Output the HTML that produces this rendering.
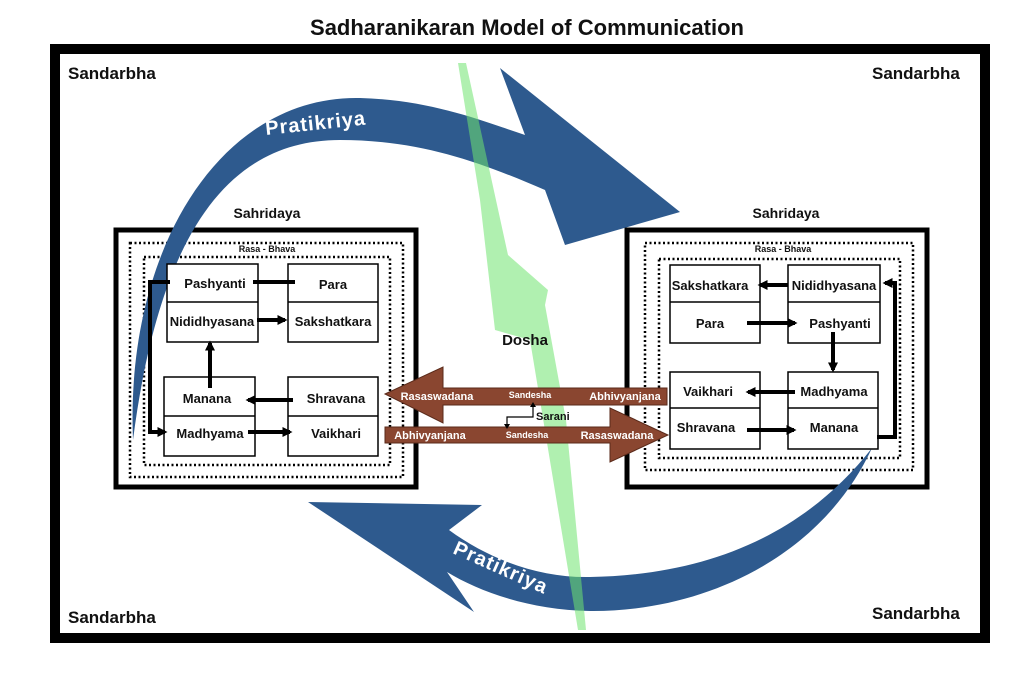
<!DOCTYPE html>
<html><head><meta charset="utf-8"><style>
html,body{margin:0;padding:0;background:#fff;}
svg{display:block;font-family:"Liberation Sans",Arial,sans-serif;}
</style></head><body>
<svg width="1024" height="683" viewBox="0 0 1024 683" xmlns="http://www.w3.org/2000/svg">
<defs>
<marker id="ah" markerWidth="10" markerHeight="10" refX="6" refY="4" orient="auto" markerUnits="userSpaceOnUse" viewBox="0 0 8 8">
<path d="M0,0 L8,4 L0,8 Z" fill="#000"/></marker>
</defs>
<rect width="1024" height="683" fill="#fff"/>
<text x="527" y="35" font-size="22" font-weight="bold" text-anchor="middle" fill="#111">Sadharanikaran Model of Communication</text>
<rect x="55" y="49" width="930" height="589" fill="none" stroke="#000" stroke-width="10"/>
<g font-size="17" font-weight="bold" fill="#111">
<text x="68" y="79">Sandarbha</text>
<text x="872" y="79">Sandarbha</text>
<text x="68" y="623">Sandarbha</text>
<text x="872" y="619">Sandarbha</text>
</g>

<!-- boxes left -->
<rect x="116" y="230" width="300" height="257" fill="#fff" stroke="#000" stroke-width="5"/>
<rect x="130" y="243" width="273" height="234" fill="none" stroke="#000" stroke-width="2.5" stroke-dasharray="2,2.5"/>
<rect x="144" y="257" width="246" height="208" fill="none" stroke="#000" stroke-width="2.5" stroke-dasharray="2,2.5"/>
<!-- boxes right -->
<rect x="627" y="230" width="300" height="257" fill="#fff" stroke="#000" stroke-width="5"/>
<rect x="645" y="243" width="268" height="227" fill="none" stroke="#000" stroke-width="2.5" stroke-dasharray="2,2.5"/>
<rect x="659" y="259" width="241" height="199" fill="none" stroke="#000" stroke-width="2.5" stroke-dasharray="2,2.5"/>

<!-- blue arrows -->
<path d="M133,440 C125,250 220,95 360,98 C430,100 480,120 525,135 L500,68 L680,212 L565,245 L545,190 C480,162 420,140 340,140 C230,140 160,230 133,440 Z" fill="#2e5a8e"/>
<path d="M872,448 C820,560 700,612 590,611 C530,610 480,592 447,572 L474,612 L308,502 L482,505 L449,530 C490,560 540,578 590,577 C700,575 800,540 872,448 Z" fill="#2e5a8e"/>
<text transform="translate(266,135) rotate(-6)" font-size="20" font-weight="bold" fill="#fff" letter-spacing="1">Pratikriya</text>
<text transform="translate(452,553) rotate(24)" font-size="20" font-weight="bold" fill="#fff" letter-spacing="1">Pratikriya</text>

<!-- green lightning -->
<path d="M458,63 L466,63 L508,255 L548,290 L545,305 L566,420 L586,630 L578,630 L530,340 L495,330 L480,200 Z" fill="#6fe46f" fill-opacity="0.55"/>
<text x="525" y="345" font-size="15" font-weight="bold" text-anchor="middle" fill="#111">Dosha</text>

<!-- inner boxes -->
<g fill="#fff" stroke="#000" stroke-width="1.5">
<rect x="167" y="264" width="91" height="78"/><line x1="167" y1="302" x2="258" y2="302"/>
<rect x="288" y="264" width="90" height="78"/><line x1="288" y1="302" x2="378" y2="302"/>
<rect x="164" y="377" width="91" height="79"/><line x1="164" y1="416" x2="255" y2="416"/>
<rect x="288" y="377" width="90" height="79"/><line x1="288" y1="416" x2="378" y2="416"/>
<rect x="670" y="265" width="90" height="78"/><line x1="670" y1="302" x2="760" y2="302"/>
<rect x="788" y="265" width="92" height="78"/><line x1="788" y1="302" x2="880" y2="302"/>
<rect x="670" y="372" width="90" height="77"/><line x1="670" y1="408" x2="760" y2="408"/>
<rect x="788" y="372" width="90" height="77"/><line x1="788" y1="408" x2="878" y2="408"/>
</g>
<g font-size="13" font-weight="bold" fill="#111" text-anchor="middle">
<text x="215" y="288">Pashyanti</text>
<text x="212" y="326">Nididhyasana</text>
<text x="333" y="289">Para</text>
<text x="333" y="326">Sakshatkara</text>
<text x="207" y="403">Manana</text>
<text x="210" y="438">Madhyama</text>
<text x="336" y="403">Shravana</text>
<text x="336" y="438">Vaikhari</text>
<text x="710" y="290">Sakshatkara</text>
<text x="710" y="328">Para</text>
<text x="834" y="290">Nididhyasana</text>
<text x="840" y="328">Pashyanti</text>
<text x="708" y="396">Vaikhari</text>
<text x="706" y="432">Shravana</text>
<text x="834" y="396">Madhyama</text>
<text x="834" y="432">Manana</text>
</g>
<g font-size="14" font-weight="bold" fill="#111" text-anchor="middle">
<text x="267" y="218">Sahridaya</text>
<text x="786" y="218">Sahridaya</text>
</g>
<g font-size="9" font-weight="bold" fill="#111" text-anchor="middle">
<text x="267" y="252">Rasa - Bhava</text>
<text x="783" y="252">Rasa - Bhava</text>
</g>

<!-- connectors -->
<g stroke="#000" stroke-width="4" fill="none">
<line x1="253" y1="282" x2="295" y2="282"/>
<polyline points="170,282 150,282 150,432 165,432" marker-end="url(#ah)"/>
<line x1="257" y1="320" x2="285" y2="320" marker-end="url(#ah)"/>
<line x1="210" y1="388" x2="210" y2="343" marker-end="url(#ah)"/>
<line x1="293" y1="400" x2="248" y2="400" marker-end="url(#ah)"/>
<line x1="248" y1="432" x2="290" y2="432" marker-end="url(#ah)"/>
<line x1="788" y1="285" x2="760" y2="285" marker-end="url(#ah)"/>
<line x1="747" y1="323" x2="795" y2="323" marker-end="url(#ah)"/>
<line x1="833" y1="332" x2="833" y2="370" marker-end="url(#ah)"/>
<line x1="795" y1="392" x2="748" y2="392" marker-end="url(#ah)"/>
<line x1="747" y1="430" x2="794" y2="430" marker-end="url(#ah)"/>
<polyline points="877,437 895,437 895,283 885,283" marker-end="url(#ah)"/>
</g>

<!-- brown arrows -->
<path d="M385,394 L443,367 L443,388 L667,388 L667,405 L443,405 L443,423 Z" fill="#8a4630" stroke="#5a2a1a" stroke-width="1"/>
<path d="M385,427 L610,427 L610,408 L668,435 L610,462 L610,443 L385,443 Z" fill="#8a4630" stroke="#5a2a1a" stroke-width="1"/>
<g font-size="11" font-weight="bold" fill="#fff" text-anchor="middle">
<text x="437" y="400">Rasaswadana</text>
<text x="625" y="400">Abhivyanjana</text>
<text x="430" y="439">Abhivyanjana</text>
<text x="617" y="439">Rasaswadana</text>
<text x="530" y="398" font-size="9">Sandesha</text>
<text x="527" y="438" font-size="9">Sandesha</text>
</g>
<polyline points="507,427 507,417 533,417 533,405" fill="none" stroke="#000" stroke-width="1.2"/>
<path d="M530,407 L533,402 L536,407 Z M504,424 L507,429 L510,424 Z" fill="#000"/>
<text x="536" y="420" font-size="11" font-weight="bold" fill="#111">Sarani</text>
</svg>
</body></html>
